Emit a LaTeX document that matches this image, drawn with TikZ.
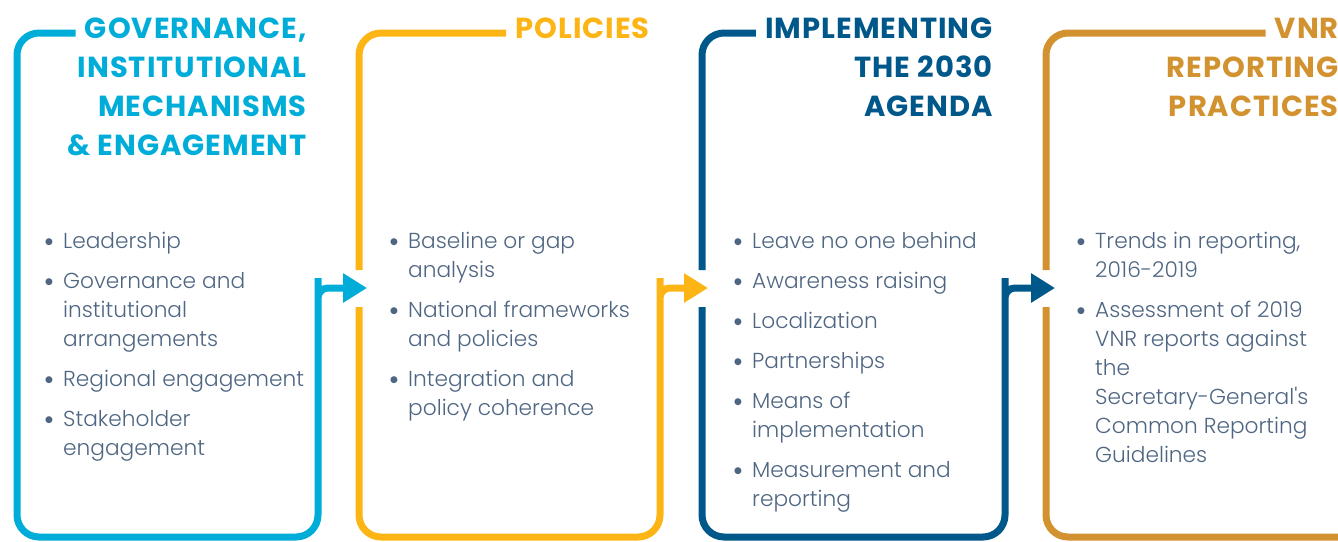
\documentclass[tikz,border=0pt]{standalone}
\usepackage{fontspec}
\usetikzlibrary{arrows.meta}
\IfFontExistsTF{Poppins Bold}{\newfontfamily\titlefont{Poppins Bold}[LetterSpace=3.5]}{\newfontfamily\titlefontbase{Poppins}[LetterSpace=3.5]\newcommand\titlefont{\titlefontbase\bfseries}}
\IfFontExistsTF{Poppins Light}{\newfontfamily\bodyfont{Poppins Light}}{\newfontfamily\bodyfont{Poppins}}
\newfontfamily\symf{DejaVu Sans}
\definecolor{cyanF}{HTML}{00ADD8}
\definecolor{orangeF}{HTML}{FDB515}
\definecolor{blueF}{HTML}{00578A}
\definecolor{goldF}{HTML}{D39230}
\definecolor{bodyC}{HTML}{4F6682}
\newcommand\bul{\makebox[18pt][l]{\raisebox{4pt}{\symf\fontsize{9}{9}\selectfont ●}}}
\begin{document}
\begin{tikzpicture}[x=1pt,y=-1pt,
  ttl/.style={font=\titlefont\fontsize{29}{39}\selectfont, inner sep=0pt, anchor=base east},
  body/.style={font=\bodyfont\fontsize{21.7}{29}\selectfont, text=bodyC, inner sep=0pt, anchor=base west},
  frame/.style={line width=7pt, rounded corners=22pt},
  tip/.style={-{Triangle[length=24pt,width=28pt]}}]
\useasboundingbox (0,0) rectangle (1338,541);
% titles
\node[ttl, text=cyanF] (g1) at (307,38) {GOVERNANCE,};
\node[ttl, text=cyanF] (g2) at (307,77) {INSTITUTIONAL};
\node[ttl, text=cyanF] (g3) at (307,116) {MECHANISMS};
\node[ttl, text=cyanF] (g4) at (307,155) {\&~ENGAGEMENT};
\node[ttl, text=orangeF] (p1) at (650,38) {POLICIES};
\node[ttl, text=blueF] (i1) at (993,38) {IMPLEMENTING};
\node[ttl, text=blueF] (i2) at (993,77) {THE 2030};
\node[ttl, text=blueF] (i3) at (993,116) {AGENDA};
\node[ttl, text=goldF] (v1) at (1339,38) {VNR};
\node[ttl, text=goldF] (v2) at (1339,77) {REPORTING};
\node[ttl, text=goldF] (v3) at (1339,116) {PRACTICES};
% line ends near titles
\path (g1.west) ++(-9,0) coordinate (e1a);
\path (p1.west) ++(-9,0) coordinate (e2a);
\path (i1.west) ++(-9,0) coordinate (e3a);
\path (v1.west) ++(-9,0) coordinate (e4a);
\coordinate (e1) at (e1a |- 0,33);
\coordinate (e2) at (e2a |- 0,33);
\coordinate (e3) at (e3a |- 0,33);
\coordinate (e4) at (e4a |- 0,33);
% frame 1
\draw[frame, cyanF, tip] (e1) -- (17,33) -- (17,537) -- (318,537) -- (318,300) [rounded corners=10pt] -- (318,288) -- (367,288);
% frame 2
\draw[frame, orangeF] (e2) -- (359,33) -- (359,270);
\draw[frame, orangeF, tip] (359,307) -- (359,537) -- (660,537) -- (660,300) [rounded corners=10pt] -- (660,288) -- (708,288);
% frame 3
\draw[frame, blueF] (e3) -- (702,33) -- (702,270);
\draw[frame, blueF, tip] (702,307) -- (702,537) -- (1005,537) -- (1005,300) [rounded corners=10pt] -- (1005,288) -- (1055,288);
% frame 4
\draw[frame, goldF] (e4) -- (1046,33) -- (1046,270);
\draw[frame, goldF] (1046,307) -- (1046,537) -- (1370,537);
% lists
\node[body] (l1) at (45,248) {\begin{tabular}[t]{@{}l@{}}
\bul Leadership\\[11pt]
\bul Governance and\\ \hspace*{18pt}institutional\\ \hspace*{18pt}arrangements\\[11pt]
\bul Regional engagement\\[11pt]
\bul Stakeholder\\ \hspace*{18pt}engagement
\end{tabular}};
\node[body] (l2) at (390,248) {\begin{tabular}[t]{@{}l@{}}
\bul Baseline or gap\\ \hspace*{18pt}analysis\\[11pt]
\bul National frameworks\\ \hspace*{18pt}and policies\\[11pt]
\bul Integration and\\ \hspace*{18pt}policy coherence
\end{tabular}};
\node[body] (l3) at (734,248) {\begin{tabular}[t]{@{}l@{}}
\bul Leave no one behind\\[11pt]
\bul Awareness raising\\[11pt]
\bul Localization\\[11pt]
\bul Partnerships\\[11pt]
\bul Means of\\ \hspace*{18pt}implementation\\[11pt]
\bul Measurement and\\ \hspace*{18pt}reporting
\end{tabular}};
\node[body] (l4) at (1077,248) {\begin{tabular}[t]{@{}l@{}}
\bul Trends in reporting,\\ \hspace*{18pt}2016-2019\\[11pt]
\bul Assessment of 2019\\ \hspace*{18pt}VNR reports against\\ \hspace*{18pt}the\\ \hspace*{18pt}Secretary-General's\\ \hspace*{18pt}Common Reporting\\ \hspace*{18pt}Guidelines
\end{tabular}};
\end{tikzpicture}
\end{document}
